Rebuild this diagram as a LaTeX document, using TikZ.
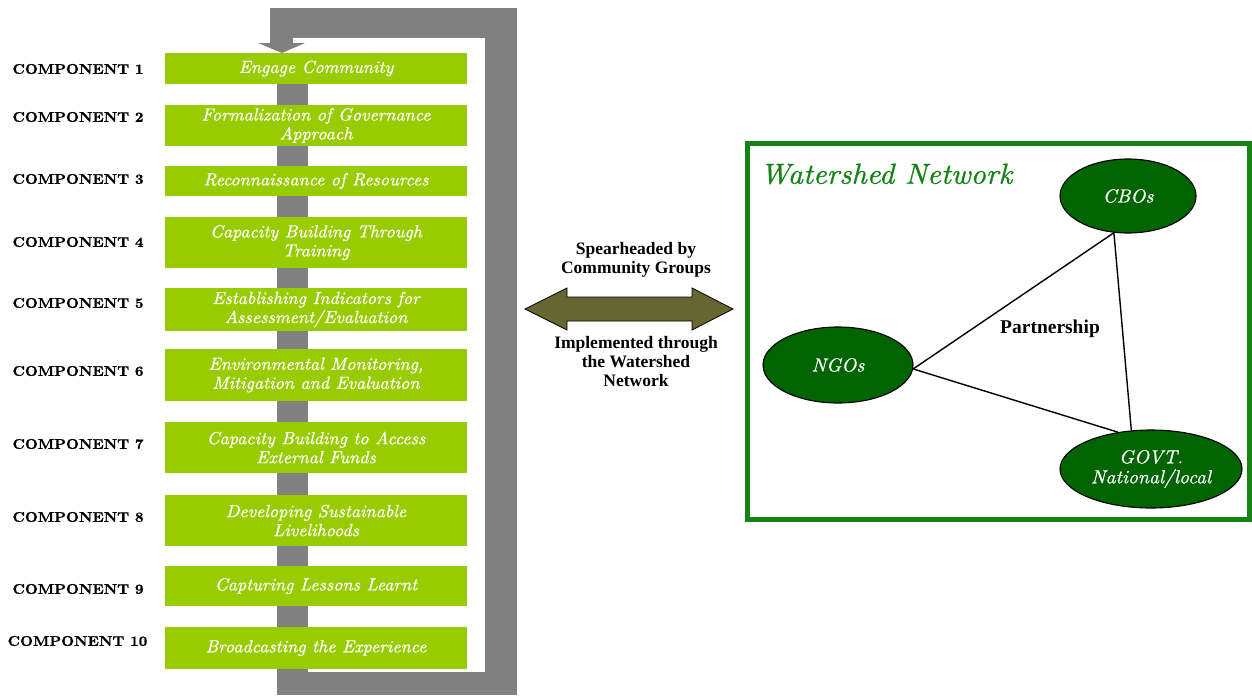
\documentclass[tikz,border=0pt]{standalone}
\usepackage{fontspec}
\usetikzlibrary{shapes.geometric}
\newfontfamily\boxfont{lmroman10-italic.otf}[FakeStretch=1.03,FakeBold=0.8]
\newfontfamily\compfont{lmroman10-bold.otf}[FakeStretch=1.07,FakeBold=1.2]
\newfontfamily\timesfont{Liberation Serif}
\definecolor{boxgreen}{RGB}{153,204,0}
\definecolor{loopgray}{RGB}{128,128,128}
\definecolor{framegreen}{RGB}{20,130,20}
\definecolor{ellgreen}{RGB}{0,100,0}
\definecolor{arrowolive}{RGB}{102,102,51}
\tikzset{
  gbox/.style={fill=boxgreen, minimum width=302pt, inner sep=0pt, align=center,
    text=white, font=\boxfont\fontsize{17.5}{19}\selectfont},
  comp/.style={inner sep=0pt, font=\compfont\fontsize{14}{16}\selectfont},
  midtext/.style={inner sep=0pt, align=center, font=\timesfont\bfseries\fontsize{17.5}{19}\selectfont},
  ell/.style={ellipse, draw=black, line width=1.1pt, fill=ellgreen, inner sep=0pt,
    align=center, text=white, font=\boxfont\fontsize{19}{20}\selectfont},
  tri/.style={draw=black, line width=1.4pt}
}
\begin{document}
\begin{tikzpicture}[x=1pt,y=-1pt]
\useasboundingbox (0,0) rectangle (1252,696);
% gray feedback loop
\fill[loopgray] (270,8) rectangle (517,38);
\fill[loopgray] (485,8) rectangle (517,695);
\fill[loopgray] (277,672) rectangle (517,695);
\fill[loopgray] (277,84) rectangle (308,695);
\fill[loopgray] (270,8) rectangle (293,43);
\fill[loopgray] (258,43) -- (305,43) -- (282,53) -- cycle;
% boxes
\node[gbox, minimum height=31pt] (b1) at (316,68.5) {Engage Community};
\node[gbox, minimum height=41pt] (b2) at (316,125.5) {Formalization of Governance\\Approach};
\node[gbox, minimum height=30pt] (b3) at (316,181) {Reconnaissance of Resources};
\node[gbox, minimum height=51pt] (b4) at (316,242.5) {Capacity Building Through\\Training};
\node[gbox, minimum height=43pt] (b5) at (316,309.5) {Establishing Indicators for\\Assessment/Evaluation};
\node[gbox, minimum height=52pt] (b6) at (316,375) {Environmental Monitoring,\\Mitigation and Evaluation};
\node[gbox, minimum height=51pt] (b7) at (316,447.5) {Capacity Building to Access\\External Funds};
\node[gbox, minimum height=51pt] (b8) at (316,520.5) {Developing Sustainable\\Livelihoods};
\node[gbox, minimum height=40pt] (b9) at (316,586) {Capturing Lessons Learnt};
\node[gbox, minimum height=42pt] (b10) at (316,648) {Broadcasting the Experience};
% component labels
\node[comp] (c1) at (78,69) {COMPONENT 1};
\node[comp] (c2) at (78,117) {COMPONENT 2};
\node[comp] (c3) at (78,179) {COMPONENT 3};
\node[comp] (c4) at (78,242) {COMPONENT 4};
\node[comp] (c5) at (78,303) {COMPONENT 5};
\node[comp] (c6) at (78,371) {COMPONENT 6};
\node[comp] (c7) at (78,444) {COMPONENT 7};
\node[comp] (c8) at (78,517) {COMPONENT 8};
\node[comp] (c9) at (78,589) {COMPONENT 9};
\node[comp] (c10) at (77.5,641) {COMPONENT 10};
% double arrow
\coordinate (al) at (525,309);
\coordinate (ar) at (733,309);
\filldraw[fill=arrowolive, draw=black, line width=0.8pt]
  (al) -- ++(42,-21) -- ++(0,9) -- ++(125,0) -- ++(0,-9) -- (ar)
  -- ++(-41,21) -- ++(0,-9) -- ++(-125,0) -- ++(0,9) -- cycle;
\node[midtext] (t1) at (636,259.5) {Spearheaded by\\Community Groups};
\node[midtext] (t2) at (636,362) {Implemented through\\the Watershed\\Network};
% watershed network frame
\draw[line width=5pt, framegreen] (747.5,143.5) rectangle (1249.5,519.5);
\node[anchor=west, inner sep=0pt, text=framegreen, font=\boxfont\fontsize{29}{32}\selectfont] (title) at (760,174) {Watershed Network};
\node[ell, minimum width=136pt, minimum height=74pt] (cbo) at (1128,196) {CBOs};
\node[ell, minimum width=150pt, minimum height=76pt] (ngo) at (838,365) {NGOs};
\node[ell, minimum width=182pt, minimum height=78pt] (gov) at (1151,469) {GOVT.\\National/local};
\draw[tri] (ngo.-3) -- (cbo.249);
\draw[tri] (ngo.-3) -- (gov.132);
\draw[tri] (cbo.249) -- (gov.117);
\node[midtext, font=\timesfont\bfseries\fontsize{19.5}{22}\selectfont] (part) at (1050,329) {Partnership};
\end{tikzpicture}
\end{document}
